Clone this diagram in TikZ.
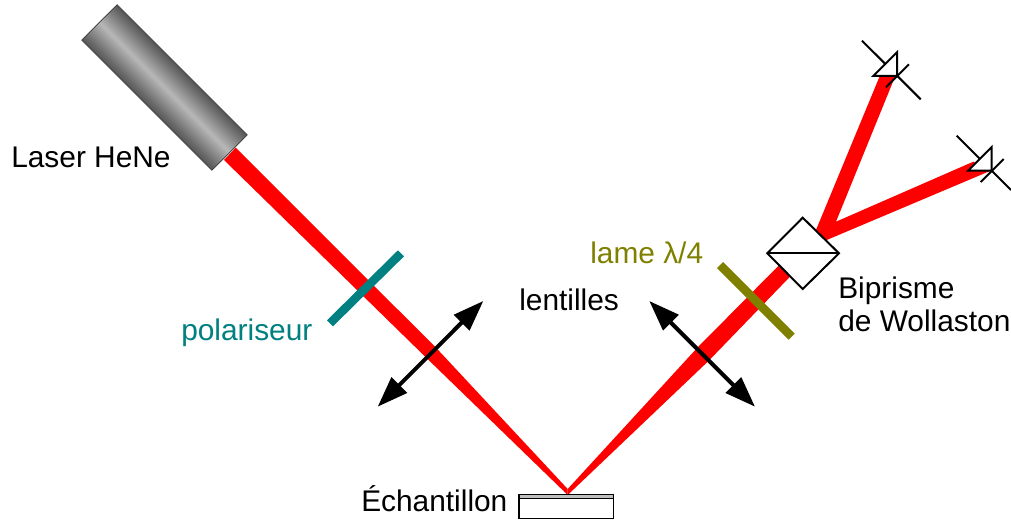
\documentclass[tikz,border=0pt]{standalone}
\usepackage{fontspec}
\setmainfont{Liberation Sans}
\usetikzlibrary{arrows.meta}
\definecolor{tealc}{HTML}{008080}
\definecolor{olivec}{HTML}{808000}
\tikzset{
  beam/.style={fill=red,draw=none},
  plate/.style={line width=6.4pt,line cap=butt},
  lensarrow/.style={line width=3pt,{Triangle[length=23pt,width=16pt]}-{Triangle[length=23pt,width=16pt]}},
  opt/.style={draw=black,line width=1.5pt,fill=white,line join=miter},
  det/.style={draw=black,line width=1.5pt},
  lbl/.style={font=\fontsize{22.4}{26}\selectfont,inner sep=0pt,anchor=base west},
  tube/.style={rotate=-45,minimum width=138pt,inner sep=0pt},
}
\begin{document}
\begin{tikzpicture}[x=0.75pt,y=-0.75pt]
\useasboundingbox (0,0) rectangle (1011,523);
% beams
\coordinate (spot) at (567.7,495);
\coordinate (spotin) at (567.7,489);
\fill[beam] (235.7,147.7) -- (224,160) -- (426,357.5) -- (spot) -- (spotin) -- (436,347.7) -- cycle;
\fill[beam] (spot) -- (709,360.5) -- (790,276.7) -- (778.3,266) -- (698.3,346.7) -- (spotin) -- cycle;
\fill[beam] (800,260) -- (816,230) -- (879.5,76.7) -- (895,76.7) -- (836,221.7) -- (973.3,161.7) -- (990,171) -- (826.7,240) -- cycle;
% laser: banded tube, light along its axis
\foreach \i in {0,...,24}{
  \pgfmathsetmacro{\h}{37.5*(1-\i/25)}
  \pgfmathsetmacro{\g}{66-1.55*\i}
  \node[tube,minimum height=\h pt,fill=black!\g] at (164.5,87.5) {};
}
\node[tube,minimum height=37.5pt,draw=black!75,line width=0.6pt] (laser) at (164.5,87.5) {};
% plates
\coordinate (p1) at (330,323.3); \coordinate (p2) at (401,253.3);
\draw[plate,tealc] (p1) -- (p2);
\coordinate (q1) at (720,265); \coordinate (q2) at (791.7,336.7);
\draw[plate,olivec] (q1) -- (q2);
% lenses
\coordinate (l1) at (377.7,406.7); \coordinate (l2) at (483.3,301);
\draw[lensarrow] (l1) -- (l2);
\coordinate (r1) at (649.3,301); \coordinate (r2) at (755,406.7);
\draw[lensarrow] (r1) -- (r2);
% prism
\draw[opt] (802.7,217.7) -- (839,253.3) -- (802.7,289) -- (767.3,253.3) -- cycle;
\draw[det] (767.3,253.3) -- (839,253.3);
% detector 1
\draw[det] (862,40.7) -- (920.7,99.3);
\draw[det] (886,87.3) -- (909,64.3);
\draw[opt] (873.3,76) -- (897,76) -- (897,52.3) -- cycle;
% detector 2
\draw[det] (956.7,135.7) -- (1011,190);
\draw[det] (980.7,182) -- (1003.7,159);
\draw[opt] (968,170.7) -- (991.7,170.7) -- (991.7,147) -- cycle;
% sample
\draw[draw=black,line width=0.9pt,fill=white] (519,494.3) rectangle (613.7,518.3);
\draw[draw=black,line width=0.9pt,fill=black!25] (519,494.3) rectangle (613.7,498.3);
% labels
\node[lbl] (tlaser) at (11,168) {Laser HeNe};
\node[lbl,text=tealc] (tpol) at (181,340.5) {polariseur};
\node[lbl,text=olivec] (tlame) at (590,264) {lame λ/4};
\node[lbl] (tlent) at (519,311) {lentilles};
\node[lbl] (tbi) at (838,298.5) {Biprisme};
\node[lbl] (twol) at (838,331.5) {de Wollaston};
\node[lbl] (tech) at (361,511.5) {Échantillon};
\end{tikzpicture}
\end{document}
